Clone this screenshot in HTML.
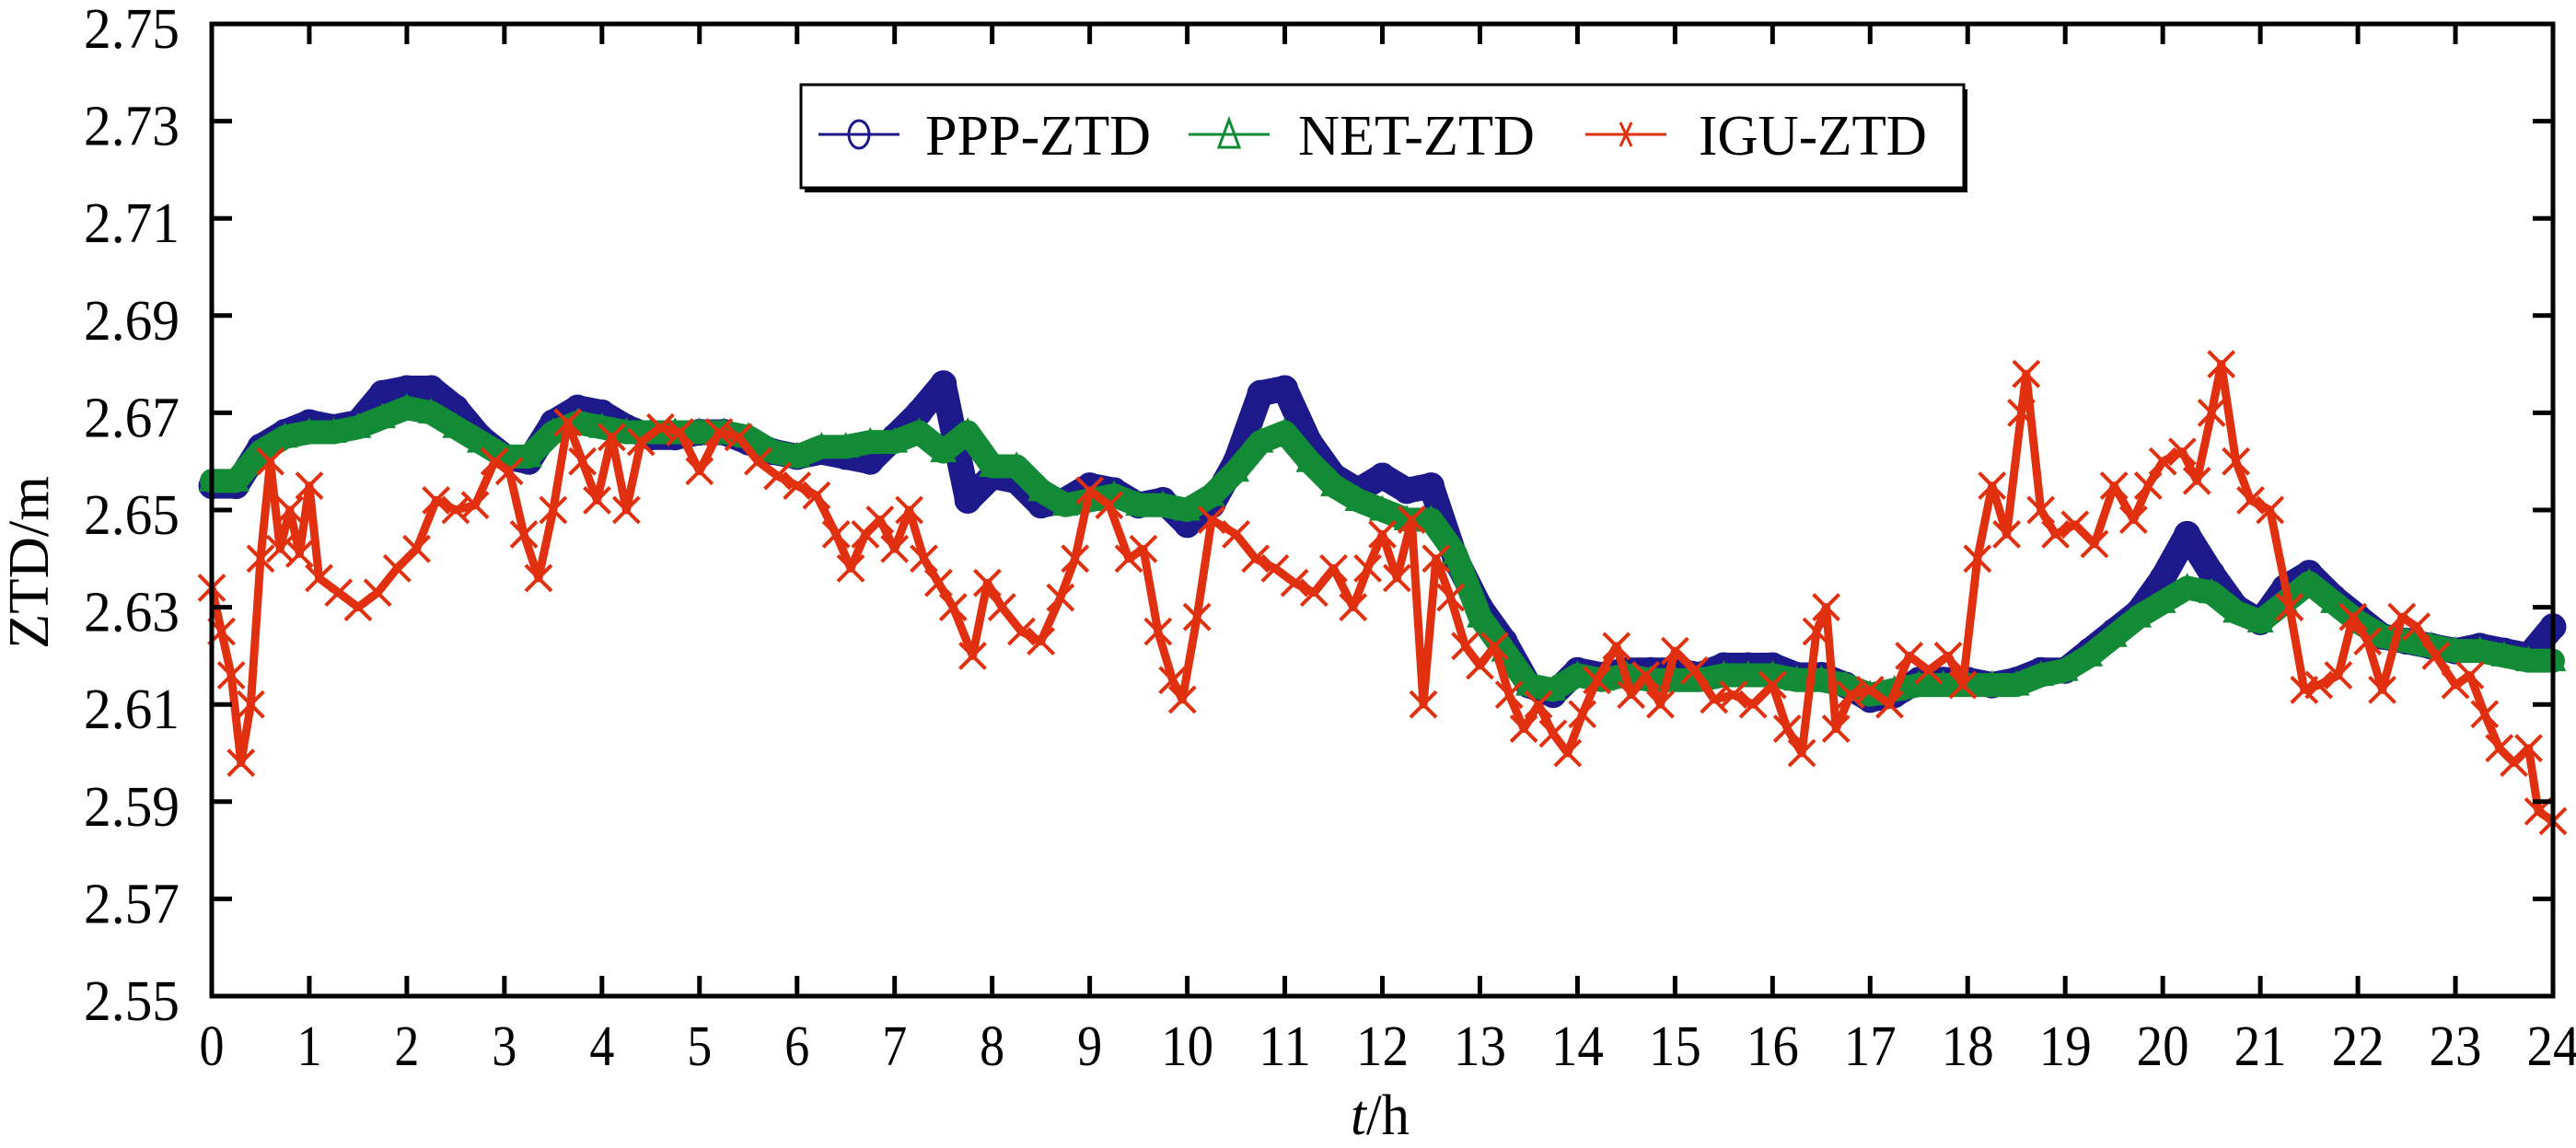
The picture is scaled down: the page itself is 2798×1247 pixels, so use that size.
<!DOCTYPE html>
<html><head><meta charset="utf-8"><style>
html,body{margin:0;padding:0;background:#fff;}
svg{display:block;}
text{font-family:"Liberation Serif","Times New Roman",Times,serif;}
</style></head><body>
<svg id="chart" width="2798" height="1247" viewBox="0 0 2798 1247" xmlns="http://www.w3.org/2000/svg">
<rect width="2798" height="1247" fill="#fff"/>
<g id="series"></g>
<g id="axes"></g>
<g id="legend"></g>
</svg>
<script>
const yTicks=["2.55","2.57","2.59","2.61","2.63","2.65","2.67","2.69","2.71","2.73","2.75"];
const xTicks=[0,1,2,3,4,5,6,7,8,9,10,11,12,13,14,15,16,17,18,19,20,21,22,23,24];
const pppHours=[0,0.25,0.5,0.75,1,1.25,1.5,1.75,2,2.25,2.5,2.75,3,3.25,3.5,3.75,4,4.25,4.5,4.75,5,5.25,5.5,5.75,6,6.25,6.5,6.75,7,7.25,7.5,7.75,8,8.25,8.5,8.75,9,9.25,9.5,9.75,10,10.25,10.5,10.75,11,11.25,11.5,11.75,12,12.25,12.5,12.75,13,13.25,13.5,13.75,14,14.25,14.5,14.75,15,15.25,15.5,15.75,16,16.25,16.5,16.75,17,17.25,17.5,17.75,18,18.25,18.5,18.75,19,19.25,19.5,19.75,20,20.25,20.5,20.75,21,21.25,21.5,21.75,22,22.25,22.5,22.75,23,23.25,23.5,23.75,24];
const pppValues=[2.655,2.655,2.663,2.666,2.668,2.667,2.668,2.674,2.675,2.675,2.671,2.665,2.661,2.660,2.668,2.671,2.670,2.667,2.665,2.665,2.666,2.666,2.664,2.662,2.661,2.662,2.661,2.660,2.665,2.670,2.676,2.652,2.657,2.656,2.651,2.652,2.655,2.654,2.651,2.652,2.647,2.651,2.660,2.674,2.675,2.664,2.657,2.654,2.657,2.654,2.655,2.640,2.630,2.623,2.614,2.612,2.617,2.616,2.617,2.617,2.617,2.616,2.618,2.618,2.618,2.616,2.616,2.614,2.611,2.612,2.615,2.615,2.615,2.614,2.615,2.617,2.617,2.621,2.625,2.629,2.636,2.645,2.637,2.630,2.627,2.634,2.637,2.632,2.628,2.624,2.623,2.622,2.621,2.622,2.621,2.620,2.626];
const netValues=[2.656,2.656,2.662,2.665,2.666,2.666,2.667,2.669,2.671,2.670,2.667,2.664,2.661,2.661,2.666,2.668,2.667,2.666,2.666,2.666,2.666,2.666,2.665,2.662,2.661,2.663,2.663,2.664,2.664,2.666,2.662,2.666,2.659,2.659,2.654,2.651,2.652,2.653,2.651,2.651,2.650,2.653,2.658,2.664,2.666,2.660,2.655,2.652,2.650,2.648,2.648,2.641,2.628,2.621,2.614,2.613,2.616,2.615,2.616,2.615,2.615,2.615,2.616,2.616,2.616,2.615,2.615,2.614,2.612,2.613,2.614,2.614,2.614,2.614,2.614,2.616,2.617,2.620,2.624,2.628,2.631,2.634,2.633,2.629,2.627,2.631,2.635,2.631,2.627,2.624,2.623,2.622,2.621,2.621,2.620,2.619,2.619];
const iguHours=[0,0.1,0.2,0.3,0.4,0.5,0.6,0.7,0.8,0.9,1.0,1.1,1.3,1.5,1.7,1.9,2.1,2.3,2.5,2.7,2.9,3.05,3.2,3.35,3.5,3.65,3.8,3.95,4.1,4.25,4.4,4.6,4.8,5.0,5.2,5.4,5.6,5.8,6.0,6.2,6.4,6.55,6.7,6.85,7.0,7.15,7.3,7.45,7.6,7.8,7.95,8.1,8.3,8.5,8.7,8.85,9.0,9.2,9.4,9.55,9.7,9.85,9.95,10.1,10.25,10.5,10.7,10.9,11.1,11.3,11.5,11.7,11.85,12.0,12.15,12.3,12.42,12.55,12.7,12.85,13.0,13.15,13.3,13.45,13.6,13.75,13.9,14.05,14.2,14.4,14.55,14.7,14.85,15.0,15.2,15.4,15.6,15.8,16.0,16.15,16.3,16.45,16.55,16.65,16.8,17.0,17.2,17.4,17.6,17.8,17.95,18.1,18.25,18.4,18.55,18.6,18.75,18.9,19.1,19.3,19.5,19.7,19.85,20.0,20.2,20.35,20.5,20.6,20.75,20.9,21.1,21.3,21.45,21.6,21.8,21.95,22.1,22.25,22.45,22.6,22.8,23.0,23.15,23.3,23.45,23.6,23.75,23.85,24.0];
const iguValues=[2.634,2.625,2.616,2.598,2.610,2.640,2.660,2.642,2.650,2.641,2.655,2.636,2.633,2.630,2.633,2.638,2.642,2.652,2.650,2.651,2.660,2.658,2.645,2.636,2.650,2.668,2.660,2.652,2.665,2.650,2.664,2.667,2.666,2.658,2.666,2.665,2.660,2.657,2.655,2.653,2.645,2.638,2.645,2.648,2.642,2.650,2.640,2.635,2.630,2.620,2.635,2.630,2.625,2.623,2.632,2.640,2.654,2.651,2.640,2.642,2.625,2.615,2.611,2.628,2.648,2.645,2.640,2.638,2.635,2.633,2.638,2.630,2.638,2.645,2.636,2.648,2.610,2.640,2.632,2.622,2.618,2.622,2.612,2.605,2.610,2.604,2.600,2.608,2.615,2.622,2.612,2.616,2.610,2.621,2.617,2.611,2.612,2.610,2.614,2.605,2.600,2.625,2.630,2.605,2.612,2.613,2.610,2.620,2.617,2.620,2.614,2.640,2.655,2.645,2.670,2.678,2.650,2.645,2.647,2.643,2.655,2.648,2.655,2.660,2.662,2.656,2.670,2.680,2.660,2.652,2.650,2.630,2.613,2.614,2.616,2.628,2.623,2.613,2.628,2.626,2.620,2.614,2.616,2.608,2.601,2.598,2.601,2.588,2.586];

const NS="http://www.w3.org/2000/svg";
const FONT="Liberation Serif, Times New Roman, serif";
const X0=230,X1=2773,Y0=26,Y1=1082;
function xs(h){return X0+(h/24)*(X1-X0);}
function ys(v){return Y1-(v-2.55)/0.2*(Y1-Y0);}
function mk(tag,attrs,parent){const e=document.createElementNS(NS,tag);for(const k in attrs)e.setAttribute(k,attrs[k]);parent.appendChild(e);return e;}
const S=document.getElementById('series'),A=document.getElementById('axes'),L=document.getElementById('legend');
const PPP="#1c1a8a",NET="#138a36",IGU="#e0300f";

let pts=pppHours.map((h,i)=>xs(h)+","+ys(pppValues[i])).join(" ");
let pl=mk('polyline',{points:pts,fill:"none",stroke:PPP,"stroke-width":28,"stroke-linejoin":"round","stroke-linecap":"round"},S);


pppHours.forEach((h,i)=>{
  const c=mk('circle',{cx:xs(h),cy:ys(pppValues[i]),r:13,fill:"none",stroke:PPP,"stroke-width":3},S);
  
  
});
pts=pppHours.map((h,i)=>xs(h)+","+ys(netValues[i])).join(" ");
pl=mk('polyline',{points:pts,fill:"none",stroke:NET,"stroke-width":26,"stroke-linejoin":"round","stroke-linecap":"round"},S);


pppHours.forEach((h,i)=>{
  const x=xs(h),y=ys(netValues[i]);
  const t=mk('polygon',{points:`${x},${y-13} ${x-12},${y+10} ${x+12},${y+10}`,fill:"none",stroke:NET,"stroke-width":3},S);
  
  
});
pts=iguHours.map((h,i)=>xs(h)+","+ys(iguValues[i])).join(" ");
pl=mk('polyline',{points:pts,fill:"none",stroke:IGU,"stroke-width":9,"stroke-linejoin":"round"},S);


iguHours.forEach((h,i)=>{
  const x=xs(h),y=ys(iguValues[i]),d=14;
  const p=mk('path',{d:`M${x-d},${y-d}L${x+d},${y+d}M${x-d},${y+d}L${x+d},${y-d}`,stroke:IGU,"stroke-width":4,fill:"none"},S);
  
  
});

const frame=mk('rect',{x:X0,y:Y0,width:X1-X0,height:Y1-Y0,fill:"none",stroke:"#000","stroke-width":5},A);


yTicks.forEach(t=>{
  const y=ys(parseFloat(t));
  mk('line',{x1:X0,x2:X0+22,y1:y,y2:y,stroke:"#000","stroke-width":5},A);
  mk('line',{x1:X1,x2:X1-22,y1:y,y2:y,stroke:"#000","stroke-width":5},A);
  const tx=mk('text',{x:91,y:y+26,"font-size":62,fill:"#000","font-family":FONT,textLength:104,lengthAdjust:"spacingAndGlyphs"},A);
  tx.textContent=t;
  
  
});
xTicks.forEach(h=>{
  const x=xs(h);
  mk('line',{x1:x,x2:x,y1:Y1,y2:Y1-22,stroke:"#000","stroke-width":5},A);
  mk('line',{x1:x,x2:x,y1:Y0,y2:Y0+22,stroke:"#000","stroke-width":5},A);
  const s=String(h),w=s.length===1?27:57;
  const tx=mk('text',{x:x-w/2,y:1157,"font-size":62,fill:"#000","font-family":FONT,textLength:w,lengthAdjust:"spacingAndGlyphs"},A);
  tx.textContent=s;
  
  
});
const yt=mk('text',{x:-94,y:0,"font-size":62,"font-family":FONT,textLength:188,lengthAdjust:"spacingAndGlyphs",transform:"translate(52,611) rotate(-90)"},A);
yt.textContent="ZTD/m";


const xt=mk('text',{x:1467,y:1232,"font-size":62,"font-family":FONT,textLength:64,lengthAdjust:"spacingAndGlyphs"},A);
xt.innerHTML='<tspan font-style="italic">t</tspan>/h';



mk('rect',{x:874,y:97,width:1263,height:112,fill:"#000"},L);
const lb=mk('rect',{x:870,y:92,width:1263,height:112,fill:"#fff",stroke:"#000","stroke-width":3},L);


const ly=146;
[[889,1005,"PPP-ZTD",PPP,"c"],[1291,1410,"NET-ZTD",NET,"t"],[1722,1845,"IGU-ZTD",IGU,"x"]].forEach(([lx,tx0,name,col,m])=>{
  const g=mk('g',{},L);
  
  
  mk('line',{x1:lx,x2:lx+88,y1:ly,y2:ly,stroke:col,"stroke-width":3},g);
  const cx=lx+44;
  if(m==="c")mk('ellipse',{cx:cx,cy:ly,rx:11,ry:15,fill:"none",stroke:col,"stroke-width":3},g);
  if(m==="t")mk('polygon',{points:`${cx},${ly-16} ${cx-11},${ly+14} ${cx+11},${ly+14}`,fill:"none",stroke:col,"stroke-width":3},g);
  if(m==="x")mk('path',{d:`M${cx-6},${ly-13}L${cx+6},${ly+13}M${cx-6},${ly+13}L${cx+6},${ly-13}`,stroke:col,"stroke-width":3},g);
  const t=mk('text',{x:tx0,y:ly+22,"font-size":62,fill:"#000","font-family":FONT,textLength:name==="IGU-ZTD"?248:(name==="PPP-ZTD"?245:257),lengthAdjust:"spacingAndGlyphs"},g);
  t.textContent=name;
});
</script>
</body></html>
